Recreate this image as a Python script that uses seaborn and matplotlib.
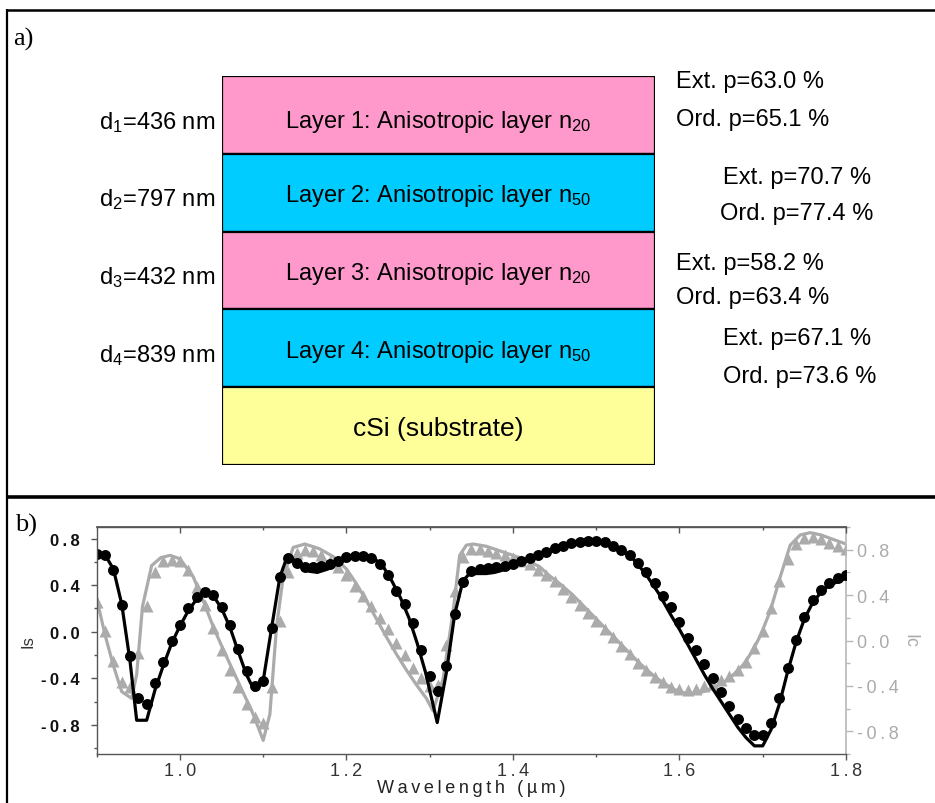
import numpy as np
import pandas as pd
import matplotlib
matplotlib.use("Agg")
import matplotlib.pyplot as plt
import seaborn as sns
from matplotlib.lines import Line2D
from matplotlib.ticker import FixedLocator, FixedFormatter

# ---------------- data ----------------
layer_names = ["Layer 1: Anisotropic layer $\\mathregular{n_{20}}$",
               "Layer 2: Anisotropic layer $\\mathregular{n_{50}}$",
               "Layer 3: Anisotropic layer $\\mathregular{n_{20}}$",
               "Layer 4: Anisotropic layer $\\mathregular{n_{50}}$",
               "cSi (substrate)"]
layer_colors = ["#FF99CC", "#00CCFF", "#FF99CC", "#00CCFF", "#FFFF99"]
thickness_nm = [436, 797, 432, 839]
ext_p = [63.0, 70.7, 58.2, 67.1]
ord_p = [65.1, 77.4, 63.4, 73.6]

wavelength = [0.90, 0.91, 0.92, 0.93, 0.94, 0.95, 0.96, 0.97, 0.98, 0.99,
              1.00, 1.01, 1.02, 1.03, 1.04, 1.05, 1.06, 1.07, 1.08, 1.09,
              1.10, 1.11, 1.12, 1.13, 1.14, 1.15, 1.16, 1.17, 1.18, 1.19,
              1.20, 1.21, 1.22, 1.23, 1.24, 1.25, 1.26, 1.27, 1.28, 1.29,
              1.30, 1.31, 1.32, 1.33, 1.34, 1.35, 1.36, 1.37, 1.38, 1.39,
              1.40, 1.41, 1.42, 1.43, 1.44, 1.45, 1.46, 1.47, 1.48, 1.49,
              1.50, 1.51, 1.52, 1.53, 1.54, 1.55, 1.56, 1.57, 1.58, 1.59,
              1.60, 1.61, 1.62, 1.63, 1.64, 1.65, 1.66, 1.67, 1.68, 1.69,
              1.70, 1.71, 1.72, 1.73, 1.74, 1.75, 1.76, 1.77, 1.78, 1.79,
              1.80]

is_data = [0.67, 0.66, 0.53, 0.23, -0.21, -0.57, -0.62, -0.44, -0.26, -0.08,
           0.06, 0.20, 0.30, 0.34, 0.32, 0.21, 0.06, -0.15, -0.34, -0.47,
           -0.42, 0.03, 0.47, 0.63, 0.59, 0.555, 0.555, 0.567, 0.584, 0.607,
           0.64, 0.65, 0.65, 0.635, 0.585, 0.49, 0.354, 0.235, 0.075, -0.155,
           -0.38, -0.51, -0.29, 0.15, 0.43, 0.52, 0.54, 0.55, 0.557, 0.567,
           0.584, 0.604, 0.633, 0.656, 0.685, 0.72, 0.74, 0.76, 0.77, 0.78,
           0.78, 0.77, 0.74, 0.70, 0.656, 0.59, 0.51, 0.42, 0.31, 0.21,
           0.08, -0.05, -0.16, -0.28, -0.40, -0.52, -0.64, -0.75, -0.83, -0.89,
           -0.89, -0.78, -0.57, -0.31, -0.07, 0.13, 0.27, 0.36, 0.42, 0.46,
           0.49]

ic_data = [0.34, 0.08, -0.18, -0.37, -0.41, -0.11, 0.30, 0.60, 0.70, 0.71,
           0.70, 0.62, 0.47, 0.31, 0.11, -0.08, -0.26, -0.41, -0.56, -0.67,
           -0.73, -0.41, 0.17, 0.60, 0.77, 0.80, 0.79, 0.75, 0.70, 0.65,
           0.58, 0.48, 0.39, 0.30, 0.20, 0.10, -0.02, -0.13, -0.24, -0.33,
           -0.40, -0.39, -0.04, 0.44, 0.74, 0.81, 0.81, 0.79, 0.77, 0.75,
           0.73, 0.70, 0.67, 0.62, 0.58, 0.52, 0.45, 0.38, 0.31, 0.24,
           0.17, 0.10, 0.03, -0.05, -0.12, -0.20, -0.26, -0.32, -0.37, -0.41,
           -0.43, -0.44, -0.43, -0.40, -0.38, -0.35, -0.31, -0.26, -0.19, -0.07,
           0.08, 0.29, 0.52, 0.72, 0.85, 0.90, 0.91, 0.89, 0.86, 0.83,
           0.81]

is_fit_wl = [0.900, 0.910, 0.920, 0.930, 0.940, 0.948, 0.960, 0.970, 0.980, 0.990,
             1.000, 1.010, 1.020, 1.030, 1.040, 1.050, 1.060, 1.070, 1.080, 1.089,
             1.100, 1.110, 1.120, 1.127, 1.135, 1.145, 1.155, 1.165, 1.178, 1.192,
             1.205, 1.215, 1.225, 1.235, 1.245, 1.255, 1.265, 1.275, 1.285, 1.295,
             1.309, 1.320, 1.330, 1.340, 1.348, 1.358, 1.368, 1.378, 1.388, 1.400,
             1.412, 1.425, 1.440, 1.455, 1.470, 1.485, 1.500, 1.515, 1.530, 1.545,
             1.560, 1.575, 1.590, 1.600, 1.610, 1.620, 1.630, 1.640, 1.650, 1.660,
             1.670, 1.680, 1.690, 1.700, 1.710, 1.720, 1.730, 1.740, 1.750, 1.760,
             1.770, 1.780, 1.790, 1.800]
is_fit = [0.68, 0.66, 0.54, 0.24, -0.25, -0.76, -0.76, -0.50, -0.29, -0.10,
          0.05, 0.18, 0.28, 0.33, 0.31, 0.20, 0.04, -0.17, -0.37, -0.50,
          -0.42, 0.03, 0.47, 0.61, 0.63, 0.56, 0.52, 0.51, 0.54, 0.60,
          0.63, 0.64, 0.64, 0.62, 0.55, 0.43, 0.29, 0.12, -0.10, -0.35,
          -0.78, -0.35, 0.15, 0.44, 0.50, 0.50, 0.50, 0.51, 0.53, 0.56,
          0.59, 0.64, 0.68, 0.73, 0.76, 0.78, 0.78, 0.76, 0.70, 0.62,
          0.49, 0.33, 0.14, 0.02, -0.11, -0.24, -0.37, -0.49, -0.60, -0.71,
          -0.82, -0.91, -0.98, -0.98, -0.84, -0.62, -0.34, -0.09, 0.11, 0.25,
          0.34, 0.40, 0.43, 0.46]

ic_fit_wl = [0.900, 0.910, 0.920, 0.930, 0.942, 0.948, 0.955, 0.966, 0.977, 0.988,
             1.000, 1.016, 1.028, 1.040, 1.052, 1.064, 1.076, 1.088, 1.100, 1.108,
             1.116, 1.124, 1.136, 1.150, 1.167, 1.184, 1.200, 1.212, 1.224, 1.236,
             1.248, 1.260, 1.272, 1.284, 1.296, 1.304, 1.316, 1.328, 1.336, 1.344,
             1.352, 1.368, 1.384, 1.400, 1.416, 1.432, 1.444, 1.458, 1.472, 1.492,
             1.512, 1.532, 1.552, 1.572, 1.593, 1.609, 1.625, 1.640, 1.653, 1.665,
             1.677, 1.687, 1.697, 1.709, 1.721, 1.733, 1.745, 1.757, 1.770, 1.781,
             1.800]
ic_fit = [0.37, 0.05, -0.22, -0.45, -0.51, -0.30, 0.30, 0.66, 0.73, 0.75,
          0.72, 0.56, 0.35, 0.12, -0.08, -0.27, -0.46, -0.65, -0.88, -0.65,
          0.12, 0.56, 0.82, 0.85, 0.81, 0.74, 0.63, 0.50, 0.35, 0.19,
          0.03, -0.12, -0.26, -0.39, -0.51, -0.62, -0.34, 0.25, 0.75, 0.84,
          0.85, 0.83, 0.79, 0.75, 0.71, 0.65, 0.57, 0.49, 0.40, 0.25,
          0.10, -0.05, -0.20, -0.33, -0.43, -0.47, -0.46, -0.42, -0.37, -0.30,
          -0.21, -0.10, 0.04, 0.26, 0.56, 0.84, 0.93, 0.95, 0.93, 0.90,
          0.85]

xtick_vals = [1.0, 1.2, 1.4, 1.6, 1.8]
xtick_labels = ["1.0", "1.2", "1.4", "1.6", "1.8"]
ytick_vals = [0.8, 0.4, 0.0, -0.4, -0.8]
ytick_labels = ["0.8", "0.4", "0.0", "-0.4", "-0.8"]

# ---------------- style ----------------
sns.set_theme(style="white")
plt.rcParams['font.family'] = ['Liberation Sans', 'DejaVu Sans']
plt.rcParams['mathtext.fontset'] = 'custom'
plt.rcParams['mathtext.rm'] = 'Liberation Sans'

THIN = "\u2009"
def spaced(s):
    return THIN.join(list(s))

W, H = 935, 804
fig = plt.figure(figsize=(W / 100, H / 100), dpi=100)
fig.patch.set_facecolor("white")

def fx(px):
    return px / W

def fy(py):
    return 1 - py / H

# outer frames
frame_kw = dict(transform=fig.transFigure, color="black", solid_capstyle="butt")
fig.add_artist(Line2D([fx(7), fx(7)], [fy(10), fy(804)], lw=1.6, **frame_kw))
fig.add_artist(Line2D([fx(7), fx(935)], [fy(10.5), fy(10.5)], lw=1.8, **frame_kw))
fig.add_artist(Line2D([fx(7), fx(935)], [fy(497.5), fy(497.5)], lw=2.6, **frame_kw))

fig.text(fx(13), fy(39), "a)", family="Liberation Serif", fontsize=19,
         ha="left", va="center", color="black")
fig.text(fx(15), fy(525), "b)", family="Liberation Serif", fontsize=19,
         ha="left", va="center", color="black")

# ---------------- panel a: layer stack ----------------
ax0 = fig.add_axes([fx(222), fy(466), fx(655) - fx(222), fy(77) - fy(466)])
rows = np.arange(len(layer_names))
ax0.barh(rows, [1] * len(rows), height=1.0, left=0, color=layer_colors,
         edgecolor="black", linewidth=1.6)
ax0.set_xlim(0, 1)
ax0.set_ylim(len(rows) - 0.5, -0.5)
ax0.axis("off")

for i, name in enumerate(layer_names):
    fs = 19 if i == len(layer_names) - 1 else 17
    ax0.text(0.5, i + (0.08 if i == 0 else 0.03), name, ha="center", va="center",
             fontsize=fs, color="black")
for i, d in enumerate(thickness_nm):
    ax0.text(-0.016, i + (0.08 if i == 0 else 0.08), "$\\mathregular{d_{%d}}$=%d nm" % (i + 1, d),
             ha="right", va="center", fontsize=17, color="black")

# polarisation texts: (x in axes fraction, y in rows)
p_pos = [((1.048, -0.43), (1.048, 0.05)),
         ((1.158, 0.80), (1.151, 1.26)),
         ((1.048, 1.90), (1.048, 2.34)),
         ((1.157, 2.87), (1.158, 3.35))]
for (pe, po), e, o in zip(p_pos, ext_p, ord_p):
    ax0.text(pe[0], pe[1], "Ext. p=%.1f %%" % e, ha="left", va="center",
             fontsize=17, color="black")
    ax0.text(po[0], po[1], "Ord. p=%.1f %%" % o, ha="left", va="center",
             fontsize=17, color="black")

# ---------------- panel b: spectra ----------------
gray = "#ababab"
spine_dark = "#555555"
ax = fig.add_axes([fx(96.7), fy(755), fx(846) - fx(96.7), fy(528) - fy(755)])
ax2 = ax.twinx()

df_data = pd.DataFrame({"wl": wavelength, "Is": is_data, "Ic": ic_data})
df_is_fit = pd.DataFrame({"wl": is_fit_wl, "Is": is_fit})
df_ic_fit = pd.DataFrame({"wl": ic_fit_wl, "Ic": ic_fit})

sns.lineplot(data=df_ic_fit, x="wl", y="Ic", ax=ax2, color=gray, lw=2.3,
             estimator=None, sort=False)
sns.scatterplot(data=df_data, x="wl", y="Ic", ax=ax2, marker="^", color=gray,
                s=75, linewidth=0)
sns.lineplot(data=df_is_fit, x="wl", y="Is", ax=ax, color="black", lw=2.3,
             estimator=None, sort=False)
sns.scatterplot(data=df_data, x="wl", y="Is", ax=ax, marker="o", color="black",
                s=62, linewidth=0)

ax.set_zorder(ax2.get_zorder() + 1)
ax.patch.set_visible(False)

ax.set_xlim(0.9, 1.8)
ax.set_ylim(-1.05, 0.9)
ax2.set_ylim(-1.0, 1.0)

# left axis (bold labels)
ax.set_yticks(ytick_vals, [spaced(t) for t in ytick_labels],
              fontweight="bold", fontsize=12, color="#111111")
ax.yaxis.set_minor_locator(FixedLocator([0.6, 0.2, -0.2, -0.6, -1.0]))
ax.tick_params(axis="y", which="major", direction="out", length=4, width=1,
               color=spine_dark, pad=8, left=True)
ax.tick_params(axis="y", which="minor", direction="out", length=2.5, width=1,
               color=spine_dark, left=True)

# bottom axis
ax.xaxis.set_major_locator(FixedLocator(xtick_vals))
ax.xaxis.set_major_formatter(FixedFormatter([spaced(t) for t in xtick_labels]))
ax.xaxis.set_minor_locator(FixedLocator([0.9, 1.1, 1.3, 1.5, 1.7]))
ax.tick_params(axis="x", which="major", direction="out", length=4, width=1,
               color=spine_dark, pad=2, labelsize=13, labelcolor="#333333",
               bottom=True)
ax.tick_params(axis="x", which="minor", direction="out", length=2.5, width=1,
               color=spine_dark, bottom=True)

# top ticks pointing inward
secx = ax.secondary_xaxis("top")
secx.xaxis.set_major_locator(FixedLocator(xtick_vals))
secx.xaxis.set_minor_locator(FixedLocator([1.1, 1.3, 1.5, 1.7]))
secx.tick_params(axis="x", which="major", direction="in", length=4, width=1,
                 color=spine_dark, labeltop=False)
secx.tick_params(axis="x", which="minor", direction="in", length=2.5, width=1,
                 color=spine_dark, labeltop=False)
secx.spines["top"].set_color(spine_dark)

for side in ["left", "bottom", "top"]:
    ax.spines[side].set_color(spine_dark)
    ax.spines[side].set_linewidth(1.0)
ax.spines["right"].set_visible(False)
for side in ["left", "bottom", "top"]:
    ax2.spines[side].set_visible(False)
ax2.spines["right"].set_color("#b8b8b8")
ax2.spines["right"].set_linewidth(1.2)

ax.set_xlabel(spaced("Wavelength (\u00b5m)"), fontsize=13, color="#222222",
              labelpad=0)
ax.set_ylabel("Is", fontsize=12, color="#333333", labelpad=4)

# right axis
ax2.yaxis.set_major_locator(FixedLocator(ytick_vals))
ax2.yaxis.set_major_formatter(FixedFormatter([spaced(t) for t in ytick_labels]))
ax2.yaxis.set_minor_locator(FixedLocator([1.0, 0.6, 0.2, -0.2, -0.6, -1.0]))
ax2.tick_params(axis="y", which="major", direction="out", length=5, width=1,
                color="#b8b8b8", pad=3, labelsize=13, labelcolor=gray, right=True)
ax2.tick_params(axis="y", which="minor", direction="out", length=3, width=1,
                color="#b8b8b8", right=True)
ax2.set_ylabel("Ic", fontsize=13, color=gray, rotation=270, labelpad=14)
ax2.set_xlabel("")

fig.savefig("out.png", dpi=100, facecolor="white")
